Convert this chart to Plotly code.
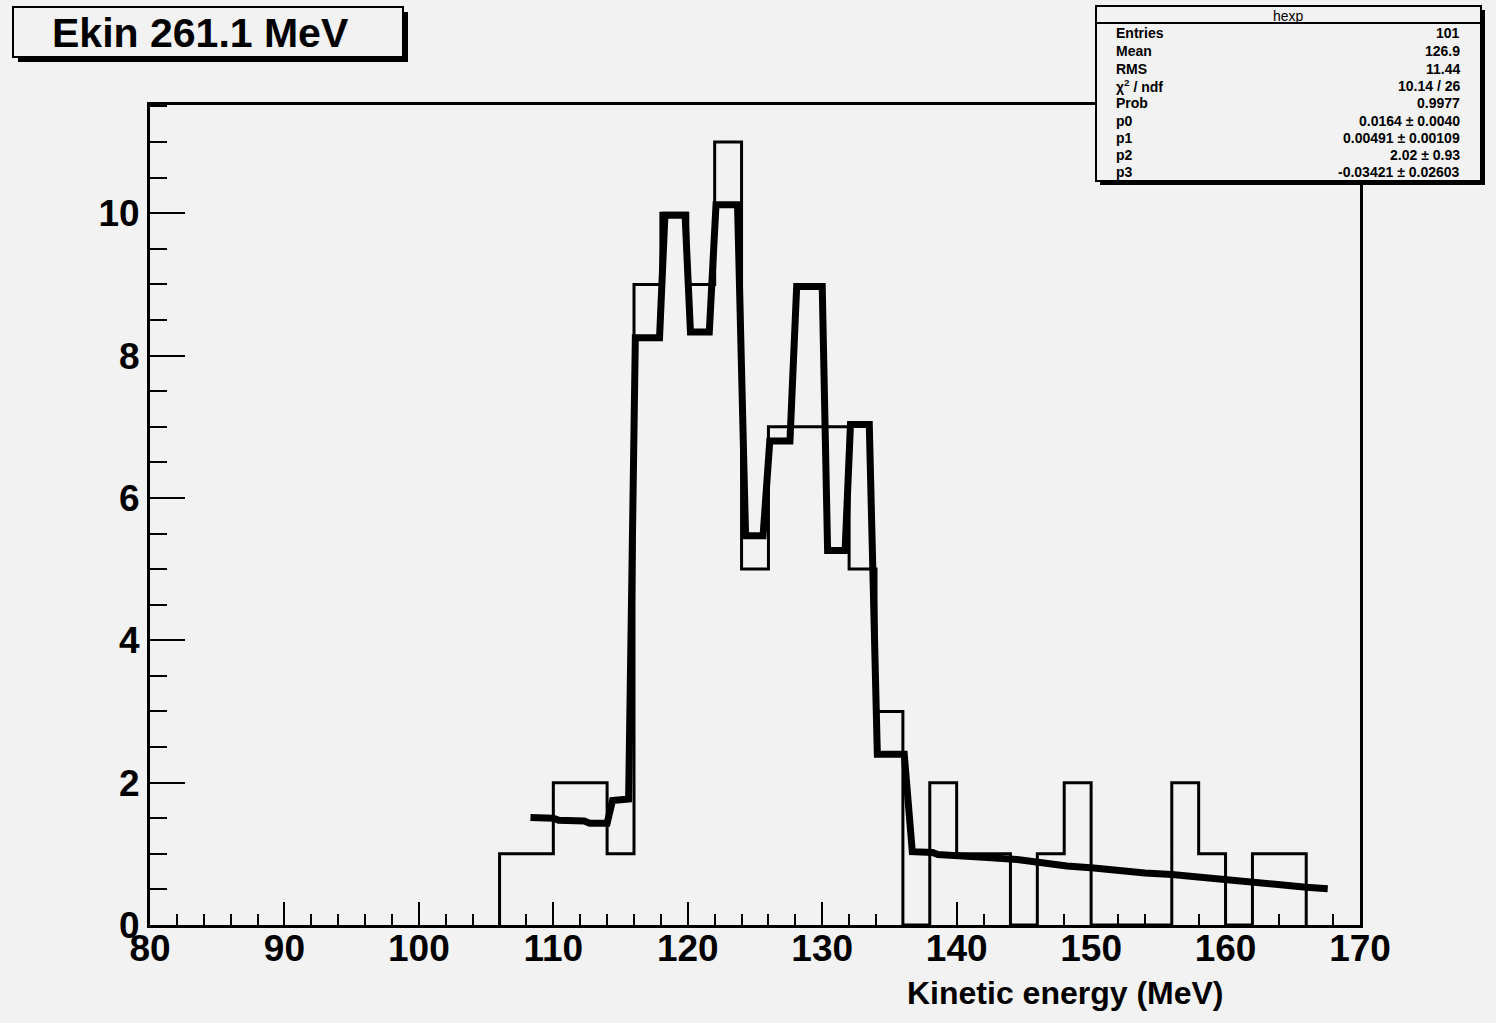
import plotly.graph_objects as go

# ---------------- data ----------------
bin_low_edges = [106, 108, 110, 112, 114, 116, 118, 120, 122, 124, 126, 128, 130, 132, 134,
                 136, 138, 140, 142, 144, 146, 148, 150, 152, 154, 156, 158, 160, 162, 164]
bin_width = 2
counts = [1, 1, 2, 2, 1, 9, 10, 9, 11, 5, 7, 7, 7, 5, 3,
          0, 2, 1, 1, 0, 1, 2, 0, 0, 0, 2, 1, 0, 1, 1]

fit_x = [108.3, 110.0, 110.4, 112.3, 112.7, 114.0, 114.4, 115.6, 116.1, 117.9, 118.3, 119.8,
         120.2, 121.6, 122.1, 123.7, 124.3, 125.6, 126.1, 127.6, 128.1, 130.0, 130.4, 131.7,
         132.1, 133.5, 134.1, 136.1, 136.7, 138.2, 138.6, 140.2, 140.6, 142.0, 144.5, 146.0,
         148.2, 150.2, 152.2, 154.0, 156.0, 158.0, 160.0, 162.0, 164.0, 166.0, 167.6]
fit_y = [1.51, 1.50, 1.47, 1.46, 1.43, 1.43, 1.75, 1.77, 8.25, 8.25, 9.97, 9.97,
         8.33, 8.33, 10.12, 10.12, 5.47, 5.47, 6.80, 6.80, 8.97, 8.97, 5.26, 5.26,
         7.03, 7.03, 2.40, 2.40, 1.03, 1.02, 0.99, 0.98, 0.96, 0.95, 0.92, 0.88,
         0.83, 0.80, 0.76, 0.73, 0.71, 0.67, 0.64, 0.60, 0.57, 0.53, 0.51]

title_text = "Ekin 261.1 MeV"
stats_title = "hexp"
stats_labels = ["Entries", "Mean", "RMS", "χ<sup>2</sup> / ndf", "Prob", "p0", "p1", "p2", "p3"]
stats_values = ["101", "126.9", "11.44", "10.14 / 26", "0.9977",
                "0.0164 ± 0.0040", "0.00491 ± 0.00109", "2.02 ± 0.93", "-0.03421 ± 0.02603"]
x_title = "Kinetic energy (MeV)"

# ---------------- figure ----------------
W, H = 1496, 1023
ML, MR, MT, MB = 150, 136, 105, 98
BG = "#f2f2f2"
FONT = "Liberation Sans, Arial, Helvetica, sans-serif"

# histogram outline (step)
hx = [bin_low_edges[0]] + bin_low_edges + [bin_low_edges[-1] + bin_width]
hy = [0] + counts + [0]

fig = go.Figure()
fig.add_trace(go.Scatter(x=hx, y=hy, mode="lines", line=dict(color="black", width=3, shape="hv"),
                         hoverinfo="skip", showlegend=False))
fig.add_trace(go.Scatter(x=fit_x, y=fit_y, mode="lines", line=dict(color="black", width=7),
                         hoverinfo="skip", showlegend=False))

fig.update_layout(
    width=W, height=H,
    margin=dict(l=ML, r=MR, t=MT, b=MB, pad=0),
    paper_bgcolor=BG, plot_bgcolor=BG,
    showlegend=False,
    font=dict(family=FONT, color="black"),
)

fig.update_xaxes(
    range=[80, 170], dtick=10, tick0=80,
    showgrid=False, zeroline=False,
    showline=True, linecolor="black", linewidth=3, mirror=True,
    ticks="inside", ticklen=23, tickwidth=2, tickcolor="black",
    minor=dict(dtick=2, ticks="inside", ticklen=11, tickwidth=2, tickcolor="black", showgrid=False),
    tickfont=dict(family=FONT, size=37, color="black", weight="bold"),
    ticklabelstandoff=-11,
)
fig.update_yaxes(
    range=[0, 11.52], dtick=2, tick0=0,
    showgrid=False, zeroline=False,
    showline=True, linecolor="black", linewidth=3, mirror=True,
    ticks="inside", ticklen=35, tickwidth=2, tickcolor="black",
    minor=dict(dtick=0.5, ticks="inside", ticklen=17, tickwidth=2, tickcolor="black", showgrid=False),
    tickfont=dict(family=FONT, size=37, color="black", weight="bold"),
)


def pxx(p):
    return (p - ML) / (W - ML - MR)


def pxy(p):
    return (H - MB - p) / (H - MT - MB)


shapes = []
annotations = []

# title box with shadow
shapes.append(dict(type="rect", xref="paper", yref="paper", layer="above",
                   x0=pxx(18), x1=pxx(408), y0=pxy(62), y1=pxy(12),
                   fillcolor="black", line=dict(width=0)))
shapes.append(dict(type="rect", xref="paper", yref="paper", layer="above",
                   x0=pxx(13), x1=pxx(403), y0=pxy(57), y1=pxy(7),
                   fillcolor=BG, line=dict(color="black", width=2)))

# stats box with shadow
shapes.append(dict(type="rect", xref="paper", yref="paper", layer="above",
                   x0=pxx(1100), x1=pxx(1485), y0=pxy(185), y1=pxy(10),
                   fillcolor="black", line=dict(width=0)))
shapes.append(dict(type="rect", xref="paper", yref="paper", layer="above",
                   x0=pxx(1096), x1=pxx(1481), y0=pxy(181), y1=pxy(6),
                   fillcolor=BG, line=dict(color="black", width=2)))
shapes.append(dict(type="line", xref="paper", yref="paper", layer="above",
                   x0=pxx(1096), x1=pxx(1481), y0=pxy(23), y1=pxy(23),
                   line=dict(color="black", width=2)))

annotations.append(dict(text=title_text, xref="paper", yref="paper", x=pxx(200), y=pxy(33),
                        xanchor="center", yanchor="middle", showarrow=False,
                        font=dict(family=FONT, size=41, color="black", weight="bold")))
annotations.append(dict(text=stats_title, xref="paper", yref="paper", x=pxx(1288), y=pxy(16),
                        xanchor="center", yanchor="middle", showarrow=False,
                        font=dict(family=FONT, size=14, color="black")))
row_y = [33, 51, 69, 86, 103, 121, 138, 155, 172]
for lab, val, ry in zip(stats_labels, stats_values, row_y):
    annotations.append(dict(text=lab, xref="paper", yref="paper", x=pxx(1114), y=pxy(ry),
                            xanchor="left", yanchor="middle", showarrow=False,
                            font=dict(family=FONT, size=14, color="black", weight="bold")))
    annotations.append(dict(text=val, xref="paper", yref="paper", x=pxx(1462), y=pxy(ry),
                            xanchor="right", yanchor="middle", showarrow=False,
                            font=dict(family=FONT, size=14, color="black", weight="bold")))

annotations.append(dict(text=x_title, xref="paper", yref="paper", x=pxx(1226), y=pxy(993),
                        xanchor="right", yanchor="middle", showarrow=False,
                        font=dict(family=FONT, size=32, color="black", weight="bold")))

fig.update_layout(shapes=shapes, annotations=annotations)

fig.write_html("out.html")
